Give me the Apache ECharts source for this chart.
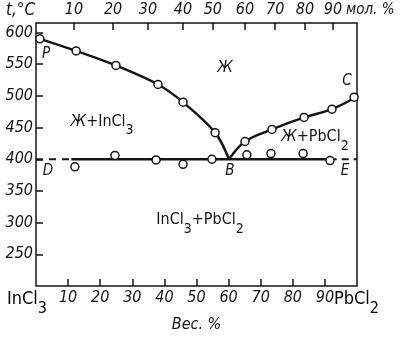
<!DOCTYPE html>
<html>
<head>
<meta charset="utf-8">
<script src="https://cdn.jsdelivr.net/npm/echarts@6/dist/echarts.min.js"></script>
<style>
  html, body { margin: 0; padding: 0; background: #fff; }
  #chart { width: 400px; height: 338px; }
</style>
</head>
<body>
<div id="chart"></div>
<script>
// Phase diagram InCl3 – PbCl2. Horizontal axis: wt. % PbCl2, vertical: t, °C.
const wtTicks = [10, 20, 30, 40, 50, 60, 70, 80, 90];
const tempTicks = [250, 300, 350, 400, 450, 500, 550, 600];
// mol. % scale along the top edge, placed at its wt. % positions
const molTickPos = [11.8, 24.0, 34.9, 45.8, 55.1, 65.1, 74.5, 83.8, 92.5];
const molTickLabels = ['10', '20', '30', '40', '50', '60', '70', '80', '90'];

// Liquidus PB (InCl3 side): drawn curve and measured points
const liquidusLeftCurve = [[0, 592], [12.5, 571], [24.9, 548], [38, 518], [45.8, 490], [55.8, 442], [60.1, 400]];
const liquidusLeftPoints = [[1.2, 590], [12.5, 571], [24.9, 548], [38, 518], [45.8, 490], [55.8, 442]];
// Liquidus BC (PbCl2 side)
const liquidusRightCurve = [[60.1, 400], [65.1, 428], [73.5, 447], [83.5, 466], [92.2, 479], [100, 499]];
const liquidusRightPoints = [[65.1, 428], [73.5, 447], [83.5, 466], [92.2, 479], [99.1, 498]];
// Eutectic horizontal DBE
const eutecticPoints = [[12.1, 388], [24.6, 406], [37.4, 399], [45.8, 392], [54.8, 400], [65.7, 407], [73.2, 409], [83.2, 409], [91.6, 398]];
const eutecticTemp = 400;
const eutecticSolidFrom = 11;
const eutecticSolidTo = 91.5;

// Region and point labels, in diagram coordinates
const regionLabels = [
  { pos: [58.9, 542], text: '{i|Ж}' },
  { pos: [20.6, 453], text: '{i|Ж}{a|+InCl}{s|3}' },
  { pos: [86.9, 429], text: '{i|Ж}{a|+PbCl}{s|2}' },
  { pos: [51.1, 298], text: '{a|InCl}{s|3}{a|+PbCl}{s|2}' }
];
const pointLabels = [
  { pos: [3.1, 566], text: 'P' },
  { pos: [96.9, 523], text: 'C' },
  { pos: [3.7, 382], text: 'D' },
  { pos: [60.4, 381], text: 'B' },
  { pos: [96.3, 382], text: 'E' }
];

const INK = '#141414';
const NUM_FONT = "'DejaVu Sans Condensed', 'Liberation Sans Narrow', 'DejaVu Sans', sans-serif";

const richFormula = {
  a: { fontFamily: NUM_FONT, fontSize: 16, color: INK, lineHeight: 18, verticalAlign: 'top' },
  i: { fontFamily: NUM_FONT, fontSize: 16, color: INK, fontStyle: 'italic', lineHeight: 18, verticalAlign: 'top' },
  s: { fontFamily: NUM_FONT, fontSize: 14, color: INK, lineHeight: 24, verticalAlign: 'bottom' }
};
// Slightly larger lettering for the component names under the axis ends
const richComponent = {
  a: { fontFamily: NUM_FONT, fontSize: 18, color: INK, lineHeight: 20, verticalAlign: 'top' },
  s: { fontFamily: NUM_FONT, fontSize: 16, color: INK, lineHeight: 27, verticalAlign: 'bottom' }
};

const chart = echarts.init(document.getElementById('chart'), null, { renderer: 'canvas' });

const axisTickStyle = { inside: true, length: 7, lineStyle: { color: INK, width: 1.5 } };
const numLabel = { fontFamily: NUM_FONT, fontStyle: 'italic', fontSize: 16, color: INK };

chart.setOption({
  animation: false,
  backgroundColor: '#fff',
  grid: { left: 36, right: 43, top: 23, bottom: 51, show: true, borderColor: INK, borderWidth: 1.5, backgroundColor: 'transparent' },
  xAxis: [
    {
      type: 'value', position: 'bottom', min: 0, max: 100,
      axisLine: { show: false },
      splitLine: { show: false },
      axisTick: Object.assign({ customValues: wtTicks }, axisTickStyle),
      axisLabel: Object.assign({ customValues: wtTicks, margin: 4 }, numLabel),
      name: 'Вес. %', nameLocation: 'middle', nameGap: 31,
      nameTextStyle: { fontFamily: NUM_FONT, fontStyle: 'italic', fontSize: 16, color: INK }
    },
    {
      type: 'value', position: 'top', min: 0, max: 100,
      axisLine: { show: false },
      splitLine: { show: false },
      axisTick: Object.assign({ customValues: molTickPos }, axisTickStyle),
      axisLabel: Object.assign({
        customValues: molTickPos, margin: 5,
        formatter: v => molTickLabels[molTickPos.indexOf(v)] || ''
      }, numLabel)
    }
  ],
  yAxis: {
    type: 'value', min: 200, max: 615,
    axisLine: { show: false },
    splitLine: { show: false },
    axisTick: Object.assign({ customValues: tempTicks }, axisTickStyle),
    axisLabel: Object.assign({ customValues: tempTicks, margin: 3 }, numLabel)
  },
  graphic: [
    { type: 'text', left: 6, top: 2, style: { text: 't,°C', font: "italic 17px " + NUM_FONT, fill: INK } },
    { type: 'text', left: 346, top: 3, style: { text: 'мол. %', font: "italic 15px " + NUM_FONT, fill: INK } },
    { type: 'text', left: 7, top: 290, style: { text: '{a|InCl}{s|3}', rich: richComponent } },
    { type: 'text', left: 334, top: 290, style: { text: '{a|PbCl}{s|2}', rich: richComponent } }
  ],
  series: [
    {
      type: 'line', data: liquidusLeftCurve, smooth: 0.35, symbol: 'none',
      lineStyle: { color: INK, width: 2.5 }, z: 3
    },
    {
      type: 'line', data: liquidusRightCurve, smooth: 0.35, symbol: 'none',
      lineStyle: { color: INK, width: 2.5 }, z: 3
    },
    {
      type: 'line', data: [[0, eutecticTemp], [eutecticSolidFrom, eutecticTemp]], symbol: 'none',
      lineStyle: { color: INK, width: 2, type: [7, 6] }, z: 3
    },
    {
      type: 'line', data: [[eutecticSolidFrom, eutecticTemp], [eutecticSolidTo, eutecticTemp]], symbol: 'none',
      lineStyle: { color: INK, width: 2.5 }, z: 3
    },
    {
      type: 'line', data: [[eutecticSolidTo, eutecticTemp], [100, eutecticTemp]], symbol: 'none',
      lineStyle: { color: INK, width: 2, type: [7, 5] }, z: 3
    },
    {
      type: 'scatter',
      data: liquidusLeftPoints.concat(liquidusRightPoints, eutecticPoints),
      symbol: 'circle', symbolSize: 8,
      itemStyle: { color: '#fff', borderColor: INK, borderWidth: 1.5, opacity: 1 },
      z: 5
    },
    {
      type: 'scatter', symbolSize: 0, silent: true, z: 6,
      itemStyle: { opacity: 1 },
      data: regionLabels.map(r => ({ value: r.pos, label: { formatter: r.text } })),
      label: { show: true, position: 'inside', rich: richFormula }
    },
    {
      type: 'scatter', symbolSize: 0, silent: true, z: 6,
      itemStyle: { opacity: 1 },
      data: pointLabels.map(p => ({ value: p.pos, label: { formatter: p.text } })),
      label: { show: true, position: 'inside', fontFamily: NUM_FONT, fontStyle: 'italic', fontSize: 15, color: INK }
    }
  ]
});
</script>
</body>
</html>
